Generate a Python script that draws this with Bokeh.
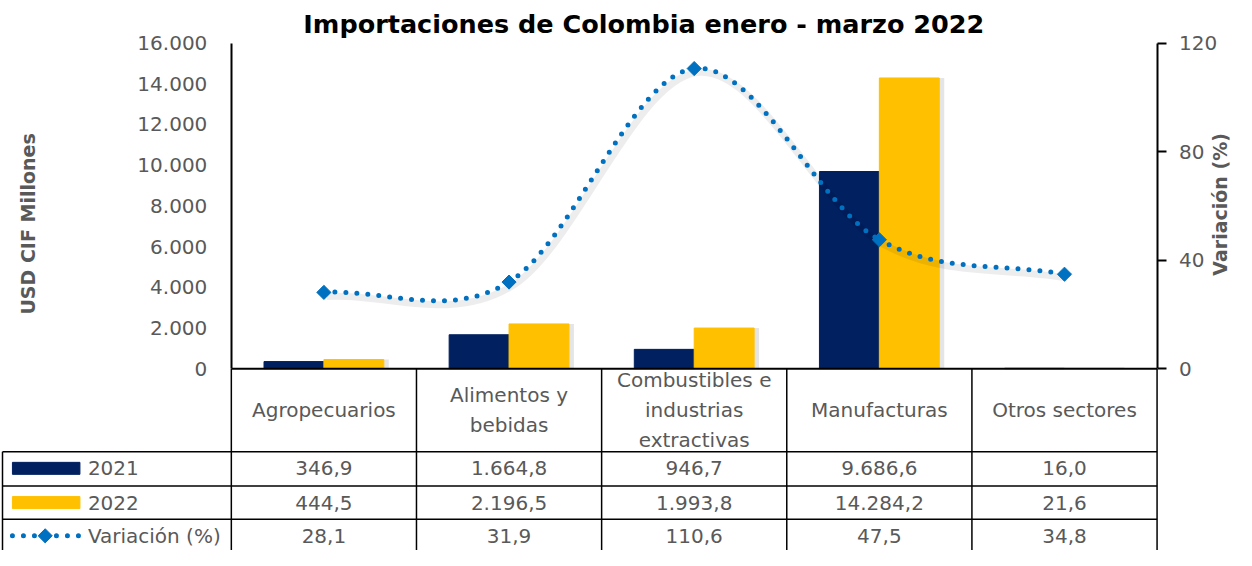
import numpy as np
from bokeh.plotting import figure
from bokeh.models import Range1d, LinearAxis, FixedTicker, CustomJSTickFormatter
from bokeh.embed import file_html
from bokeh.resources import INLINE
from bokeh.core.properties import value

# ---------------- data ----------------
categories = ["Agropecuarios", "Alimentos y\nbebidas", "Combustibles e\nindustrias\nextractivas",
              "Manufacturas", "Otros sectores"]
imp_2021 = [346.9, 1664.8, 946.7, 9686.6, 16.0]
imp_2022 = [444.5, 2196.5, 1993.8, 14284.2, 21.6]
variacion = [28.1, 31.9, 110.6, 47.5, 34.8]
left_ticks = [0, 2000, 4000, 6000, 8000, 10000, 12000, 14000, 16000]
right_ticks = [0, 40, 80, 120]
series_names = ["2021", "2022", "Variación (%)"]
title_text = "Importaciones de Colombia enero - marzo 2022"
left_label = "USD CIF Millones"
right_label = "Variación (%)"

# ---------------- style / layout (pixels) ----------------
NAVY = "#002060"
GOLD = "#FFC000"
BLUE = "#0070C0"
GRAY = "#595959"
FONT = "DejaVu Sans"

W, H = 1236, 550


def fx(r):   # reference-image x -> canvas x
    return 2 + (r - 9) * 0.99275


def fy(r):   # reference-image y -> canvas y
    return -3.4 + 0.9777 * r


XA, XB = fx(239.5), fx(1172)
TOP, BASE = fy(47), fy(380)
HEADER_Y = fy(465)
ROW_LINES = [HEADER_Y, fy(500), fy(534), float(H)]
n = len(categories)
scale = (XB - XA) / n
LMAX, RMAX = left_ticks[-1], right_ticks[-1]
ppl = (BASE - TOP) / LMAX
ppr = (BASE - TOP) / RMAX
xc = np.arange(n) + 0.5
bw = 0.3235


def fmt(v):
    s = f"{v:,.1f}"
    return s.replace(",", "X").replace(".", ",").replace("X", ".")


def u(px):
    return (px - XA) / scale


p = figure(width=W, height=H,
           x_range=Range1d(-XA / scale, n + (W - XB) / scale),
           y_range=Range1d(-(H - BASE) / ppl, LMAX + TOP / ppl),
           output_backend="svg", toolbar_location=None,
           min_border_left=0, min_border_right=0, min_border_top=0, min_border_bottom=0)
p.extra_y_ranges = {"pct": Range1d(-(H - BASE) / ppr, RMAX + TOP / ppr),
                    "px": Range1d(H, 0)}
p.xaxis.visible = False
p.xgrid.visible = False
p.ygrid.visible = False
p.outline_line_color = None

# left value axis
ya = p.yaxis[0]
ya.fixed_location = 0
ya.bounds = (0, LMAX)
ya.ticker = FixedTicker(ticks=left_ticks)
ya.formatter = CustomJSTickFormatter(
    code="return tick.toFixed(0).replace(/\\B(?=(\\d{3})+(?!\\d))/g, '.');")
ya.major_tick_out = 0
ya.major_tick_in = 0
ya.minor_tick_out = 0
ya.minor_tick_in = 0
ya.axis_line_width = 2
ya.axis_line_color = "black"
ya.major_label_text_font = FONT
ya.major_label_text_font_size = "20px"
ya.major_label_text_color = GRAY
ya.major_label_standoff = 24

# right percentage axis
ra = LinearAxis(y_range_name="pct", ticker=FixedTicker(ticks=right_ticks),
                fixed_location=n, bounds=(0, RMAX))
ra.major_tick_out = 9
ra.major_tick_in = 0
ra.minor_tick_out = 0
ra.minor_tick_in = 0
ra.major_tick_line_width = 2
ra.major_tick_line_color = "black"
ra.axis_line_width = 2
ra.axis_line_color = "black"
ra.major_label_text_font = FONT
ra.major_label_text_font_size = "20px"
ra.major_label_text_color = GRAY
ra.major_label_standoff = 13
p.add_layout(ra, "right")

# axis titles and chart title
p.text(x=[u(fx(35)), u(1219)], y=[fy(232), fy(212)], text=[left_label, right_label],
       y_range_name="px", angle=np.pi / 2, text_align="center", text_baseline="middle",
       text_font=value(FONT), text_font_size=value("19px"), text_font_style="bold",
       text_color=GRAY)
p.text(x=[u(fx(655))], y=[fy(28)], text=[title_text], y_range_name="px", text_align="center",
       text_baseline="middle", text_font=value(FONT), text_font_size=value("25.5px"),
       text_font_style="bold", text_color="black")

# bar shadows + bars
sh = 5 / scale
p.vbar(x=xc - bw / 2 + sh, top=imp_2021, width=bw, color="black", alpha=0.10, line_color=None)
p.vbar(x=xc + bw / 2 + sh, top=imp_2022, width=bw, color="black", alpha=0.10, line_color=None)
p.vbar(x=xc - bw / 2, top=imp_2021, width=bw, color=NAVY, line_color=NAVY)
p.vbar(x=xc + bw / 2, top=imp_2022, width=bw, color=GOLD, line_color=GOLD)

# smoothed line (Catmull-Rom style bezier through the data points)
yv = np.array(variacion, dtype=float)
m = np.zeros(n)
m[1:-1] = (yv[2:] - yv[:-2]) / 2
m[0] = yv[1] - yv[0]
m[-1] = yv[-1] - yv[-2]
cx0, cy0 = xc[:-1] + 1 / 3, yv[:-1] + m[:-1] / 3
cx1, cy1 = xc[1:] - 1 / 3, yv[1:] - m[1:] / 3
dy = 4 / ppr
dx = 3 / scale
p.bezier(x0=xc[:-1] + dx, y0=yv[:-1] - dy, x1=xc[1:] + dx, y1=yv[1:] - dy,
         cx0=cx0 + dx, cy0=cy0 - dy, cx1=cx1 + dx, cy1=cy1 - dy,
         line_color="black", line_alpha=0.07, line_width=7, y_range_name="pct")
p.bezier(x0=xc[:-1], y0=yv[:-1], x1=xc[1:], y1=yv[1:],
         cx0=cx0, cy0=cy0, cx1=cx1, cy1=cy1,
         line_color=BLUE, line_width=5, line_dash="0 11", line_cap="round",
         y_range_name="pct")
p.scatter(xc, variacion, marker="square", size=10, angle=np.pi / 4, color=BLUE,
          y_range_name="pct")

# ---------------- data table ----------------
x_left = u(fx(9))
p.segment(x0=[0], y0=[BASE], x1=[n], y1=[BASE], line_color="black", line_width=2,
          y_range_name="px")
p.segment(x0=list(range(n + 1)), y0=[BASE] * (n + 1), x1=list(range(n + 1)), y1=[H] * (n + 1),
          line_color="black", line_width=1.5, y_range_name="px")
p.segment(x0=[x_left], y0=[HEADER_Y], x1=[x_left], y1=[H], line_color="black", line_width=1.5,
          y_range_name="px")
p.segment(x0=[x_left] * 3, y0=ROW_LINES[:3], x1=[n] * 3, y1=ROW_LINES[:3],
          line_color="black", line_width=1.5, y_range_name="px")

p.text(x=xc, y=[(BASE + HEADER_Y) / 2] * n, text=categories, y_range_name="px",
       text_align="center", text_baseline="middle", text_font=value(FONT),
       text_font_size=value("20px"), text_color=GRAY, text_line_height=1.25)

row_c = [fy(482), fy(517), fy(551)]
for i, vals in enumerate([imp_2021, imp_2022, variacion]):
    p.text(x=xc, y=[row_c[i]] * n, text=[fmt(v) for v in vals], y_range_name="px",
           text_align="center", text_baseline="middle", text_font=value(FONT),
           text_font_size=value("20px"), text_color=GRAY)

# legend column
p.rect(x=[(u(fx(19)) + u(fx(87))) / 2] * 2, y=row_c[:2], width=u(fx(87)) - u(fx(19)),
       height=12, color=[NAVY, GOLD], y_range_name="px")
p.segment(x0=[u(fx(19))], y0=[row_c[2]], x1=[u(fx(87))], y1=[row_c[2]], line_color=BLUE,
          line_width=5, line_dash="0 11", line_cap="round", y_range_name="px")
p.scatter(x=[u(fx(52))], y=[row_c[2]], marker="square", size=10, angle=np.pi / 4, color=BLUE,
          y_range_name="px")
p.text(x=[u(fx(95))] * 3, y=row_c, text=series_names, y_range_name="px", text_align="left",
       text_baseline="middle", text_font=value(FONT), text_font_size=value("20px"),
       text_color=GRAY)

open("out.html", "w").write(file_html(p, INLINE))
